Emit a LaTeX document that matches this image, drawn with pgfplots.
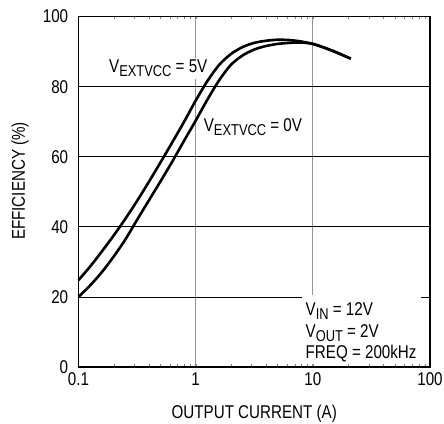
\documentclass[border=0pt]{standalone}
\usepackage{fontspec}
\setmainfont{Liberation Sans}[FakeStretch=0.82]
\usepackage{pgfplots}
\pgfplotsset{compat=1.18}
\newcommand\sub[1]{\raisebox{-4pt}{\fontsize{15.7}{15.7}\selectfont #1}}
\begin{document}
\fontsize{18.5}{21}\selectfont
\begin{tikzpicture}
\useasboundingbox (-78.5pt,-56pt) rectangle (365.5pt,367pt);
\begin{axis}[
  scale only axis,
  width=351.5pt, height=350.4pt,
  xmode=log,
  xmin=0.1, xmax=100, ymin=0, ymax=100,
  xtick={0.1,1,10,100}, xticklabels={0.1,1,10,100},
  minor xtick={},
  ytick={0,20,40,60,80,100},
  major tick length=0pt,
  grid=major,
  x grid style={gray!85, line width=1.1pt},
  y grid style={black, line width=0.7pt},
  axis line style={black, line width=1.5pt},
  /pgf/number format/assume math mode=true,
  ticklabel style={font=\fontsize{18.5}{20}\selectfont},
  yticklabel style={xshift=-4pt},
  xticklabel style={yshift=1pt},
  label style={font=\fontsize{18.5}{20}\selectfont},
  xlabel={OUTPUT CURRENT (A)},
  ylabel={EFFICIENCY (\%)},
  xlabel style={at={(axis description cs:0.5,-0.134)}, anchor=center},
  ylabel style={at={(axis description cs:-0.1664,0.531)}, anchor=center},
  clip=false,
]
\node[anchor=base west, fill=white, inner sep=2pt] at (axis cs:0.175,84) {V\sub{EXTVCC} = 5V};
\node[anchor=base west, fill=white, inner sep=2pt] at (axis cs:1.125,67.2) {V\sub{EXTVCC} = 0V};
\node[anchor=north west, fill=white, inner xsep=4pt, inner ysep=2pt, align=left,
      font=\fontsize{18.5}{21.5}\selectfont] at (axis cs:8.0,20.6)
 {\rule{0pt}{18.5pt}V\sub{IN} = 12V\\V\sub{OUT} = 2V\\FREQ = 200kHz};
% V_EXTVCC = 5V
\addplot[black, line width=2.6pt, smooth] coordinates {
 (0.1,24.8) (0.1259,28.7) (0.1585,33.0) (0.1995,37.5) (0.2512,42.3)
 (0.3162,47.4) (0.3981,52.8) (0.5012,58.4) (0.6310,64.1) (0.7943,69.9)
 (1,76.0) (1.259,81.6) (1.585,86.2) (1.995,89.3) (2.512,91.3)
 (3.162,92.5) (3.981,93.1) (5.012,93.4) (6.310,93.3) (7.943,92.9)
 (10,92.2) (12.59,91.1) (15.85,89.8) (21.1,88.0)
};
% V_EXTVCC = 0V
\addplot[black, line width=2.6pt, smooth] coordinates {
 (0.1,20.0) (0.1259,23.3) (0.1585,27.1) (0.1995,31.5) (0.2512,36.4)
 (0.3162,42.0) (0.3981,47.5) (0.5012,53.0) (0.6310,58.6) (0.7943,64.5)
 (1,70.3) (1.259,76.3) (1.585,81.8) (1.995,86.2) (2.512,88.9)
 (3.162,90.6) (3.981,91.6) (5.012,92.2) (6.310,92.5) (7.943,92.6)
 (10,92.2) (12.59,91.1) (15.85,89.8) (21.1,88.0)
};
\end{axis}
\end{tikzpicture}
\end{document}
